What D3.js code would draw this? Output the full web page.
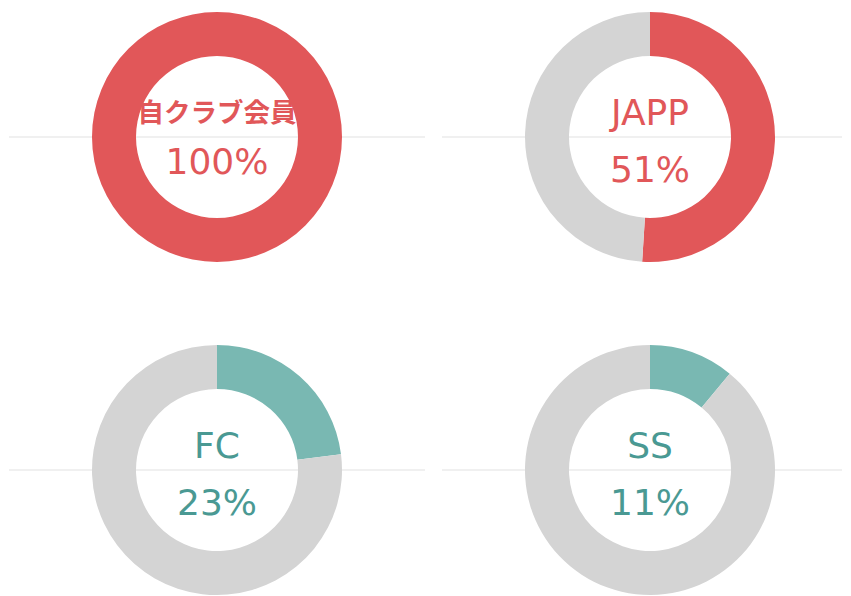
<!DOCTYPE html>
<html>
<head>
<meta charset="utf-8">
<script src="https://cdn.jsdelivr.net/npm/d3@7"></script>
<style>
  body { margin: 0; background: #fff; }
  svg { display: block; }
</style>
</head>
<body>
<div class="container"></div>
<script>
let width = 851
let height = 596

const labels = ['自クラブ会員', 'JAPP', 'FC', 'SS']
const percents = [100, 51, 23, 11]
const groups = ['red', 'red', 'teal', 'teal']

const arcColors = { red: '#e15759', teal: '#79b8b2' }
const textColors = { red: '#e15759', teal: '#4a9993' }
const restColor = '#d4d4d4'

let outerR = 125
let innerR = 81
let cols = [217, 650]
let rows = [137, 470]

let svg = d3.select('.container')
    .append('svg')
    .attr('width', width)
    .attr('height', height)

// faint horizontal rules behind each row
let rules = [[9, 425], [442, 842]]
rows.forEach(y => {
    rules.forEach(r => {
        svg.append('line')
            .attr('x1', r[0]).attr('x2', r[1])
            .attr('y1', y).attr('y2', y)
            .attr('stroke', '#f0f0f0')
            .attr('stroke-width', 2)
    })
})

let pie = d3.pie().sort(null).value(d => d)
let arc = d3.arc().innerRadius(innerR).outerRadius(outerR)

labels.forEach((label, i) => {
    let cx = cols[i % 2]
    let cy = rows[Math.floor(i / 2)]
    let g = svg.append('g').attr('transform', `translate(${cx},${cy})`)
    let slices = pie([percents[i], 100 - percents[i]])

    g.selectAll('path')
        .data(slices)
        .enter()
        .append('path')
        .attr('d', arc)
        .attr('fill', (d, j) => j === 0 ? arcColors[groups[i]] : restColor)

    let cjk = i === 0
    g.append('text')
        .attr('text-anchor', 'middle')
        .attr('y', cjk ? -15 : -12)
        .attr('fill', textColors[groups[i]])
        .attr('font-family', cjk ? '"Noto Sans CJK JP", sans-serif' : '"DejaVu Sans", sans-serif')
        .attr('font-weight', cjk ? 700 : 400)
        .attr('font-size', cjk ? 26.5 : 36)
        .text(label)

    g.append('text')
        .attr('text-anchor', 'middle')
        .attr('y', cjk ? 37 : 45)
        .attr('fill', textColors[groups[i]])
        .attr('font-family', '"DejaVu Sans", sans-serif')
        .attr('font-size', 36)
        .text(percents[i] + '%')
})
</script>
</body>
</html>
